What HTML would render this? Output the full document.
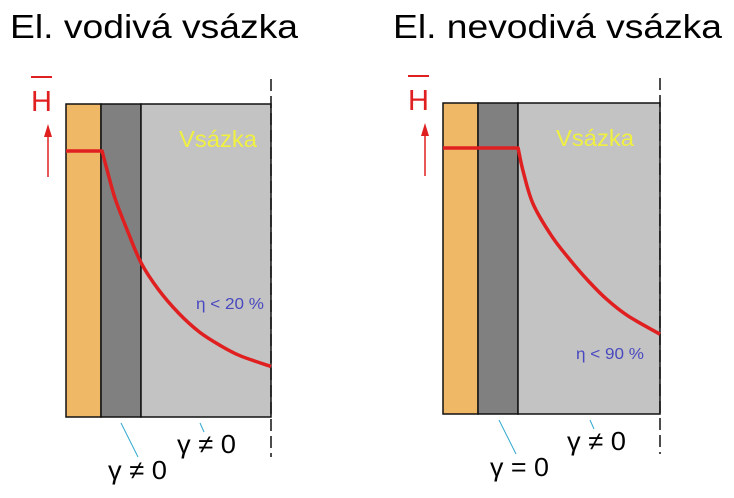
<!DOCTYPE html>
<html><head><meta charset="utf-8"><style>
html,body{margin:0;padding:0;background:#fff;}
svg{display:block;font-family:"Liberation Sans",sans-serif;}
</style></head><body>
<svg id="chart" width="734" height="498" viewBox="0 0 734 498">
<text x="10" y="38" font-size="33" textLength="288" lengthAdjust="spacingAndGlyphs">El. vodivá vsázka</text>
<text x="393" y="38" font-size="33" textLength="329" lengthAdjust="spacingAndGlyphs">El. nevodivá vsázka</text>
</svg>
<script>
// normalized depth (0 = wall edge, 1 = load end) and field strength H (1 = wall value)
const leftDepth = [0, 0.176, 0.20, 0.24, 0.30, 0.366, 0.45, 0.55, 0.65, 0.75, 0.85, 1];
const leftH     = [1, 1,     0.93, 0.82, 0.70, 0.58,  0.48, 0.39, 0.32, 0.27, 0.23, 0.19];
const rightDepth = [0, 0.346, 0.37, 0.415, 0.50, 0.585, 0.67, 0.756, 0.85, 1];
const rightH     = [1, 1,     0.91, 0.79,  0.67, 0.58,  0.50, 0.43,  0.37, 0.30];
const leftLabels = ["γ ≠ 0", "γ ≠ 0", "η < 20 %"];
const rightLabels = ["γ = 0", "γ ≠ 0", "η < 90 %"];

const NS = "http://www.w3.org/2000/svg";
const svg = document.getElementById("chart");
function mk(tag, attrs, parent) {
  const e = document.createElementNS(NS, tag);
  for (const k in attrs) e.setAttribute(k, attrs[k]);
  (parent || svg).appendChild(e);
  return e;
}
function panel(p, depth, H, labels, id) {
  const g = mk("g", {});
  
  
  const xs = d => p.x0 + d * (p.x1 - p.x0);
  const ys = h => p.yb - h * (p.yb - p.yh);
  let r = mk("rect", {x:p.x0, y:p.yt, width:p.o1-p.x0, height:p.yb-p.yt, fill:"#efb866", stroke:"#111", "stroke-width":1.5}, g);
  
  
  r = mk("rect", {x:p.o1, y:p.yt, width:p.o2-p.o1, height:p.yb-p.yt, fill:"#808080", stroke:"#111", "stroke-width":1.5}, g);
  
  
  r = mk("rect", {x:p.o2, y:p.yt, width:p.x1-p.o2, height:p.yb-p.yt, fill:"#c3c3c3", stroke:"#111", "stroke-width":1.5}, g);
  
  
  let l = mk("line", {x1:p.x1, y1:p.yt-25, x2:p.x1, y2:p.yb+40, stroke:"#111", "stroke-width":1.5, "stroke-dasharray":"12,5"}, g);
  
  
  const pts = depth.map((v, i) => [xs(v), ys(H[i])]);
  let d = "M" + pts[0][0] + "," + pts[0][1] + " L" + pts[1][0] + "," + pts[1][1];
  for (let i = 1; i < pts.length - 1; i++) {
    const p0 = i === 1 ? pts[1] : pts[i-1];
    const p1 = pts[i], p2 = pts[i+1];
    const p3 = pts[i+2] || p2;
    const c1 = [p1[0] + (p2[0]-p0[0])/6, p1[1] + (p2[1]-p0[1])/6];
    const c2 = [p2[0] - (p3[0]-p1[0])/6, p2[1] - (p3[1]-p1[1])/6];
    d += " C" + c1[0] + "," + c1[1] + " " + c2[0] + "," + c2[1] + " " + p2[0] + "," + p2[1];
  }
  const path = mk("path", {d:d, fill:"none", stroke:"#e02020", "stroke-width":3.5, "stroke-linejoin":"round"}, g);
  
  
  let t = mk("text", {x:p.x0 + 113, y:p.yt + 43, "font-size":23, fill:"#f0f040", textLength:78, lengthAdjust:"spacingAndGlyphs"}, g);
  t.textContent = "Vsázka";
  
  
  t = mk("text", {x:p.etax, y:p.etay, "font-size":16, fill:"#4848c0", textLength:68, lengthAdjust:"spacingAndGlyphs"}, g);
  t.textContent = labels[2];
  
  
  t = mk("text", {x:p.x0 - 35, y:p.yt + 7, "font-size":29, fill:"#e02020"}, g);
  t.textContent = "H";
  
  
  l = mk("line", {x1:p.x0 - 35, y1:p.yt - 27, x2:p.x0 - 14, y2:p.yt - 27, stroke:"#e02020", "stroke-width":2}, g);
  
  
  l = mk("line", {x1:p.x0 - 18, y1:p.yt + 73, x2:p.x0 - 18, y2:p.yt + 26, stroke:"#e02020", "stroke-width":1.5}, g);
  
  
  const ah = mk("path", {d:"M"+(p.x0-22)+","+(p.yt+33)+" L"+(p.x0-18)+","+(p.yt+20)+" L"+(p.x0-14)+","+(p.yt+33)+"Z", fill:"#e02020"}, g);
  
  
  l = mk("line", {x1:p.c1x, y1:p.yb + 6, x2:p.c1x + 17, y2:p.yb + 40, stroke:"#30a8d0", "stroke-width":1}, g);
  
  
  l = mk("line", {x1:p.c2x, y1:p.yb + 6, x2:p.c2x + 4, y2:p.yb + 15, stroke:"#30a8d0", "stroke-width":1}, g);
  
  
  t = mk("text", {x:p.g1x, y:p.yb + 62, "font-size":26, textLength:59, lengthAdjust:"spacingAndGlyphs"}, g);
  t.textContent = labels[0];
  
  
  t = mk("text", {x:p.g2x, y:p.yb + 36, "font-size":26, textLength:59, lengthAdjust:"spacingAndGlyphs"}, g);
  t.textContent = labels[1];
  
  
}
panel({x0:66, o1:101, o2:141, x1:271, yt:104, yh:151, yb:417, etax:196, etay:309, c1x:121, c2x:200, g1x:108, g2x:177}, leftDepth, leftH, leftLabels, "left");
panel({x0:443, o1:478, o2:518, x1:660, yt:103, yh:148, yb:414, etax:576, etay:359, c1x:499, c2x:590, g1x:490, g2x:567}, rightDepth, rightH, rightLabels, "right");
</script>
</body></html>
